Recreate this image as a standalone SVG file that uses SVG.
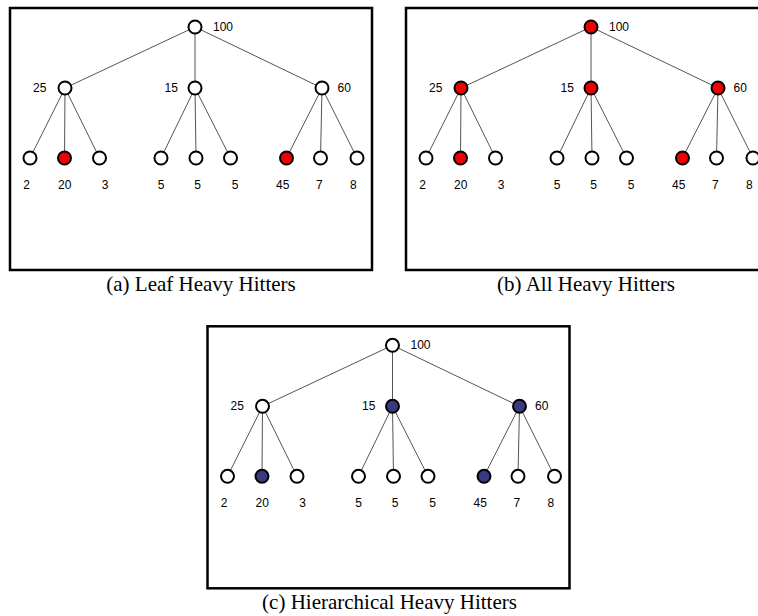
<svg xmlns="http://www.w3.org/2000/svg" width="758" height="616" viewBox="0 0 758 616">
<defs>
<style>
.frame{fill:none;stroke:#000;stroke-width:2.5}
.edge{stroke:#555;stroke-width:1;fill:none}
.n{stroke:#000;stroke-width:2;fill:#fff}
.red{fill:#f00000}
.blue{fill:#3a3a82}
.lbl{font-family:"Liberation Sans",Arial,sans-serif;font-size:12px;fill:#000;text-anchor:middle}
.cap{font-family:"Liberation Serif","Times New Roman",serif;font-size:21px;fill:#000;text-anchor:middle}
</style>
</defs>
<rect width="758" height="616" fill="#fff"/>

<!-- Panel (a) -->
<g id="panel-a">
<rect class="frame" x="10" y="8" width="362" height="262"/>
<g id="a-connectors">
<line class="edge" x1="195" y1="27" x2="65" y2="88"/>
<line class="edge" x1="195" y1="27" x2="195" y2="88"/>
<line class="edge" x1="195" y1="27" x2="322" y2="88"/>
<line class="edge" x1="65" y1="88" x2="30" y2="158"/>
<line class="edge" x1="65" y1="88" x2="64.5" y2="158"/>
<line class="edge" x1="65" y1="88" x2="99.5" y2="158"/>
<line class="edge" x1="195" y1="88" x2="161" y2="158"/>
<line class="edge" x1="195" y1="88" x2="196" y2="158"/>
<line class="edge" x1="195" y1="88" x2="230.5" y2="158"/>
<line class="edge" x1="322" y1="88" x2="286.5" y2="158"/>
<line class="edge" x1="322" y1="88" x2="320.5" y2="158"/>
<line class="edge" x1="322" y1="88" x2="357" y2="158"/>
</g>
<g id="a-root"><circle class="n" cx="195" cy="27" r="6.5"/><text class="lbl" x="223" y="31">100</text></g>
<g id="a-n25"><circle class="n" cx="65" cy="88" r="6.5"/><text class="lbl" x="39.7" y="92">25</text></g>
<g id="a-n15"><circle class="n" cx="195" cy="88" r="6.5"/><text class="lbl" x="171.3" y="92">15</text></g>
<g id="a-n60"><circle class="n" cx="322" cy="88" r="6.5"/><text class="lbl" x="344.3" y="92">60</text></g>
<g id="a-l1"><circle class="n" cx="30" cy="158" r="6.5"/><text class="lbl" x="26.7" y="188.5">2</text></g>
<g id="a-l2"><circle class="n red" cx="64.5" cy="158" r="6.5"/><text class="lbl" x="64.7" y="188.5">20</text></g>
<g id="a-l3"><circle class="n" cx="99.5" cy="158" r="6.5"/><text class="lbl" x="105" y="188.5">3</text></g>
<g id="a-l4"><circle class="n" cx="161" cy="158" r="6.5"/><text class="lbl" x="161" y="188.5">5</text></g>
<g id="a-l5"><circle class="n" cx="196" cy="158" r="6.5"/><text class="lbl" x="197.7" y="188.5">5</text></g>
<g id="a-l6"><circle class="n" cx="230.5" cy="158" r="6.5"/><text class="lbl" x="235" y="188.5">5</text></g>
<g id="a-l7"><circle class="n red" cx="286.5" cy="158" r="6.5"/><text class="lbl" x="282.7" y="188.5">45</text></g>
<g id="a-l8"><circle class="n" cx="320.5" cy="158" r="6.5"/><text class="lbl" x="319.3" y="188.5">7</text></g>
<g id="a-l9"><circle class="n" cx="357" cy="158" r="6.5"/><text class="lbl" x="353.3" y="188.5">8</text></g>
<text class="cap" x="201" y="290.5">(a) Leaf Heavy Hitters</text>
</g>

<!-- Panel (b) -->
<g id="panel-b" transform="translate(396,0)">
<rect class="frame" x="10" y="8" width="362" height="262"/>
<g id="b-connectors">
<line class="edge" x1="195" y1="27" x2="65" y2="88"/>
<line class="edge" x1="195" y1="27" x2="195" y2="88"/>
<line class="edge" x1="195" y1="27" x2="322" y2="88"/>
<line class="edge" x1="65" y1="88" x2="30" y2="158"/>
<line class="edge" x1="65" y1="88" x2="64.5" y2="158"/>
<line class="edge" x1="65" y1="88" x2="99.5" y2="158"/>
<line class="edge" x1="195" y1="88" x2="161" y2="158"/>
<line class="edge" x1="195" y1="88" x2="196" y2="158"/>
<line class="edge" x1="195" y1="88" x2="230.5" y2="158"/>
<line class="edge" x1="322" y1="88" x2="286.5" y2="158"/>
<line class="edge" x1="322" y1="88" x2="320.5" y2="158"/>
<line class="edge" x1="322" y1="88" x2="357" y2="158"/>
</g>
<g id="b-root"><circle class="n red" cx="195" cy="27" r="6.5"/><text class="lbl" x="223" y="31">100</text></g>
<g id="b-n25"><circle class="n red" cx="65" cy="88" r="6.5"/><text class="lbl" x="39.7" y="92">25</text></g>
<g id="b-n15"><circle class="n red" cx="195" cy="88" r="6.5"/><text class="lbl" x="171.3" y="92">15</text></g>
<g id="b-n60"><circle class="n red" cx="322" cy="88" r="6.5"/><text class="lbl" x="344.3" y="92">60</text></g>
<g id="b-l1"><circle class="n" cx="30" cy="158" r="6.5"/><text class="lbl" x="26.7" y="188.5">2</text></g>
<g id="b-l2"><circle class="n red" cx="64.5" cy="158" r="6.5"/><text class="lbl" x="64.7" y="188.5">20</text></g>
<g id="b-l3"><circle class="n" cx="99.5" cy="158" r="6.5"/><text class="lbl" x="105" y="188.5">3</text></g>
<g id="b-l4"><circle class="n" cx="161" cy="158" r="6.5"/><text class="lbl" x="161" y="188.5">5</text></g>
<g id="b-l5"><circle class="n" cx="196" cy="158" r="6.5"/><text class="lbl" x="197.7" y="188.5">5</text></g>
<g id="b-l6"><circle class="n" cx="230.5" cy="158" r="6.5"/><text class="lbl" x="235" y="188.5">5</text></g>
<g id="b-l7"><circle class="n red" cx="286.5" cy="158" r="6.5"/><text class="lbl" x="282.7" y="188.5">45</text></g>
<g id="b-l8"><circle class="n" cx="320.5" cy="158" r="6.5"/><text class="lbl" x="319.3" y="188.5">7</text></g>
<g id="b-l9"><circle class="n" cx="357" cy="158" r="6.5"/><text class="lbl" x="353.3" y="188.5">8</text></g>
<text class="cap" x="190" y="290.5">(b) All Heavy Hitters</text>
</g>

<!-- Panel (c) -->
<g id="panel-c" transform="translate(197.5,318.3)">
<rect class="frame" x="10" y="8" width="362" height="262"/>
<g id="c-connectors">
<line class="edge" x1="195" y1="27" x2="65" y2="88"/>
<line class="edge" x1="195" y1="27" x2="195" y2="88"/>
<line class="edge" x1="195" y1="27" x2="322" y2="88"/>
<line class="edge" x1="65" y1="88" x2="30" y2="158"/>
<line class="edge" x1="65" y1="88" x2="64.5" y2="158"/>
<line class="edge" x1="65" y1="88" x2="99.5" y2="158"/>
<line class="edge" x1="195" y1="88" x2="161" y2="158"/>
<line class="edge" x1="195" y1="88" x2="196" y2="158"/>
<line class="edge" x1="195" y1="88" x2="230.5" y2="158"/>
<line class="edge" x1="322" y1="88" x2="286.5" y2="158"/>
<line class="edge" x1="322" y1="88" x2="320.5" y2="158"/>
<line class="edge" x1="322" y1="88" x2="357" y2="158"/>
</g>
<g id="c-root"><circle class="n" cx="195" cy="27" r="6.5"/><text class="lbl" x="223" y="31">100</text></g>
<g id="c-n25"><circle class="n" cx="65" cy="88" r="6.5"/><text class="lbl" x="39.7" y="92">25</text></g>
<g id="c-n15"><circle class="n blue" cx="195" cy="88" r="6.5"/><text class="lbl" x="171.3" y="92">15</text></g>
<g id="c-n60"><circle class="n blue" cx="322" cy="88" r="6.5"/><text class="lbl" x="344.3" y="92">60</text></g>
<g id="c-l1"><circle class="n" cx="30" cy="158" r="6.5"/><text class="lbl" x="26.7" y="188.5">2</text></g>
<g id="c-l2"><circle class="n blue" cx="64.5" cy="158" r="6.5"/><text class="lbl" x="64.7" y="188.5">20</text></g>
<g id="c-l3"><circle class="n" cx="99.5" cy="158" r="6.5"/><text class="lbl" x="105" y="188.5">3</text></g>
<g id="c-l4"><circle class="n" cx="161" cy="158" r="6.5"/><text class="lbl" x="161" y="188.5">5</text></g>
<g id="c-l5"><circle class="n" cx="196" cy="158" r="6.5"/><text class="lbl" x="197.7" y="188.5">5</text></g>
<g id="c-l6"><circle class="n" cx="230.5" cy="158" r="6.5"/><text class="lbl" x="235" y="188.5">5</text></g>
<g id="c-l7"><circle class="n blue" cx="286.5" cy="158" r="6.5"/><text class="lbl" x="282.7" y="188.5">45</text></g>
<g id="c-l8"><circle class="n" cx="320.5" cy="158" r="6.5"/><text class="lbl" x="319.3" y="188.5">7</text></g>
<g id="c-l9"><circle class="n" cx="357" cy="158" r="6.5"/><text class="lbl" x="353.3" y="188.5">8</text></g>
<text class="cap" x="192" y="290.5">(c) Hierarchical Heavy Hitters</text>
</g>
</svg>
